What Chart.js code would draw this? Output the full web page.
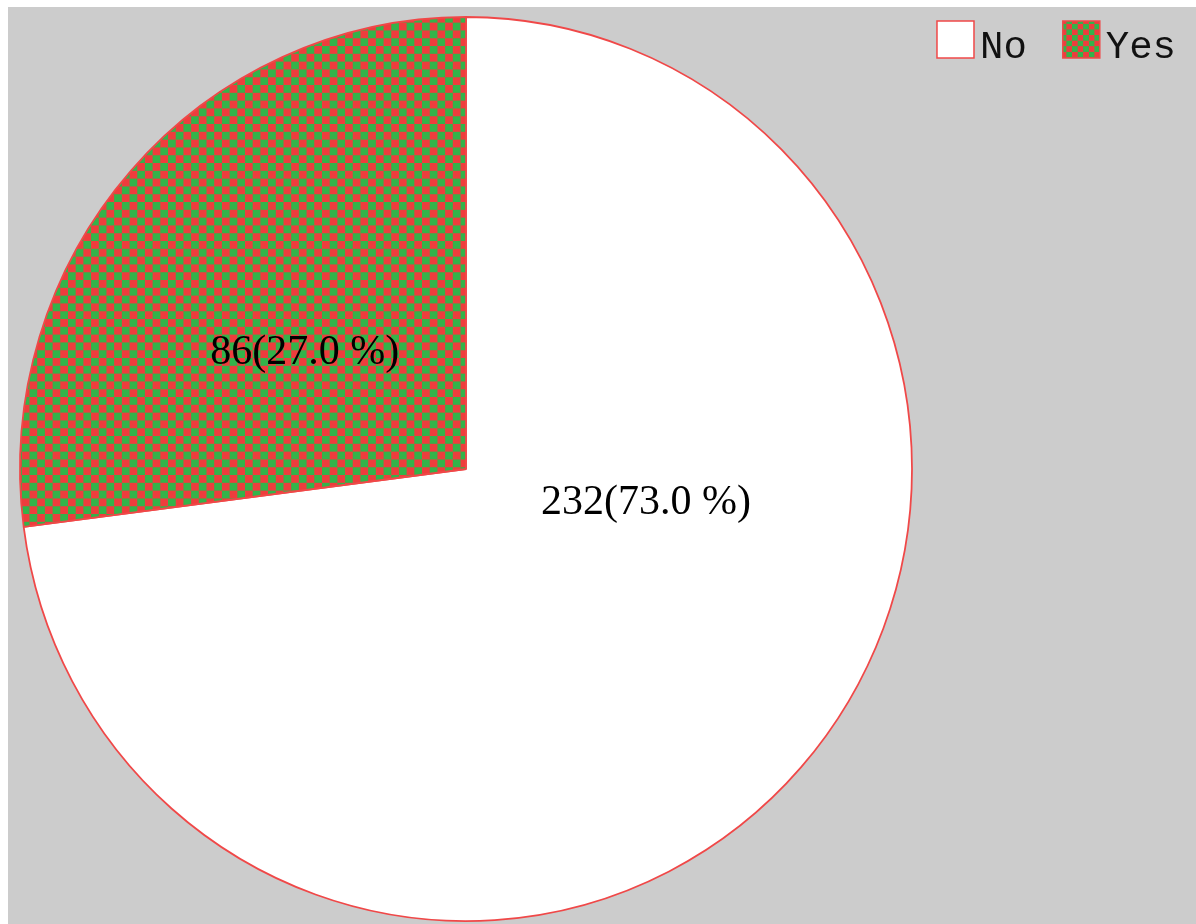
<!DOCTYPE html>
<html>
<head>
<meta charset="utf-8">
<title>No / Yes</title>
<script src="https://cdn.jsdelivr.net/npm/chart.js@4.4.1/dist/chart.umd.min.js"></script>
<style>
  html, body { margin: 0; padding: 0; background: #ffffff; }
  #panel {
    position: absolute; left: 8px; top: 7px;
    width: 1188px; height: 917px;
    background: #cccccc;
  }
  #pie { display: block; }
</style>
</head>
<body>
<div id="panel"><canvas id="pie" width="1188" height="917"></canvas></div>
<script>
// Answer categories and their counts
const categories = ['No', 'Yes'];
const counts = [232, 86];

const RED = '#ee3d3d';
const GREEN = '#33b34a';
const EDGE = '#f04848';

const LABEL_FONT = '42px "Liberation Serif"';
const LEGEND_FONT = '39px "Liberation Mono"';

// Red/green checkerboard used for the "Yes" slice
function checker(cell, scale) {
  const tile = document.createElement('canvas');
  tile.width = tile.height = cell * 2;
  const t = tile.getContext('2d');
  t.fillStyle = RED;
  t.fillRect(0, 0, cell * 2, cell * 2);
  t.fillStyle = GREEN;
  t.fillRect(cell, 0, cell, cell);
  t.fillRect(0, cell, cell, cell);
  const pat = document.getElementById('pie').getContext('2d').createPattern(tile, 'repeat');
  if (scale && pat.setTransform) pat.setTransform(new DOMMatrix().scale(scale));
  return pat;
}

// Slightly narrower than tall: squeeze the pie horizontally about its centre
const squeeze = {
  id: 'squeeze',
  beforeDatasetsDraw(chart, args, opts) {
    const arc = chart.getDatasetMeta(0).data[0];
    const ctx = chart.ctx;
    ctx.save();
    ctx.translate(arc.x, arc.y);
    ctx.scale(opts.sx, 1);
    ctx.translate(-arc.x, -arc.y);
  },
  afterDatasetsDraw(chart) {
    chart.ctx.restore();
  }
};

// Value labels placed inside each slice
const sliceLabels = {
  id: 'sliceLabels',
  afterDatasetsDraw(chart, args, opts) {
    const ctx = chart.ctx;
    const meta = chart.getDatasetMeta(0);
    const data = chart.data.datasets[0].data;
    const total = data.reduce((a, b) => a + b, 0);
    ctx.save();
    ctx.font = opts.font;
    ctx.fillStyle = '#000000';
    ctx.textAlign = 'center';
    ctx.textBaseline = 'middle';
    meta.data.forEach((arc, i) => {
      const p = arc.getProps(['x', 'y', 'startAngle', 'endAngle', 'outerRadius'], true);
      const a = p.startAngle + opts.along[i] * (p.endAngle - p.startAngle);
      const r = opts.radius[i] * p.outerRadius;
      const txt = data[i] + '(' + (data[i] / total * 100).toFixed(1) + ' %)';
      ctx.fillText(txt, p.x + Math.cos(a) * r, p.y + Math.sin(a) * r);
    });
    ctx.restore();
  }
};

// Horizontal legend in the top-right corner
const cornerLegend = {
  id: 'cornerLegend',
  afterDraw(chart, args, opts) {
    const ctx = chart.ctx;
    ctx.save();
    ctx.font = opts.font;
    ctx.textBaseline = 'alphabetic';
    const labels = chart.data.labels;
    const widths = labels.map(l => ctx.measureText(l).width);
    let total = 0;
    labels.forEach((l, i) => {
      total += opts.box + opts.gap + widths[i];
      if (i < labels.length - 1) total += opts.itemGap;
    });
    let x = chart.width - opts.right - total;
    const y = opts.top;
    labels.forEach((l, i) => {
      ctx.fillStyle = opts.fills[i];
      ctx.fillRect(x, y, opts.box, opts.box);
      ctx.strokeStyle = EDGE;
      ctx.lineWidth = 1.5;
      ctx.strokeRect(x, y, opts.box, opts.box);
      ctx.fillStyle = '#111111';
      ctx.fillText(l, x + opts.box + opts.gap, y + opts.box);
      x += opts.box + opts.gap + widths[i] + opts.itemGap;
    });
    ctx.restore();
  }
};

function draw() {
  new Chart(document.getElementById('pie'), {
    type: 'pie',
    data: {
      labels: categories,
      datasets: [{
        data: counts,
        backgroundColor: ['#ffffff', checker(8, 0.975)],
        borderColor: EDGE,
        borderWidth: 1.8,
        hoverOffset: 0
      }]
    },
    options: {
      responsive: false,
      animation: false,
      radius: 452,
      layout: { padding: { left: 6, top: 10, right: 278, bottom: 3 } },
      plugins: {
        legend: { display: false },
        tooltip: { enabled: false },
        squeeze: { sx: 446 / 452 },
        sliceLabels: {
          font: LABEL_FONT,
          along: [0.383, 0.444],
          radius: [0.405, 0.44]
        },
        cornerLegend: {
          font: LEGEND_FONT,
          fills: ['#ffffff', checker(8, 0.7)],
          box: 37, gap: 6, itemGap: 36, right: 20, top: 14
        }
      }
    },
    plugins: [squeeze, sliceLabels, cornerLegend]
  });
}

Promise.all([
  document.fonts.load(LABEL_FONT, '0123456789(%)'),
  document.fonts.load(LEGEND_FONT, 'NoYes')
]).then(draw, draw);
</script>
</body>
</html>
